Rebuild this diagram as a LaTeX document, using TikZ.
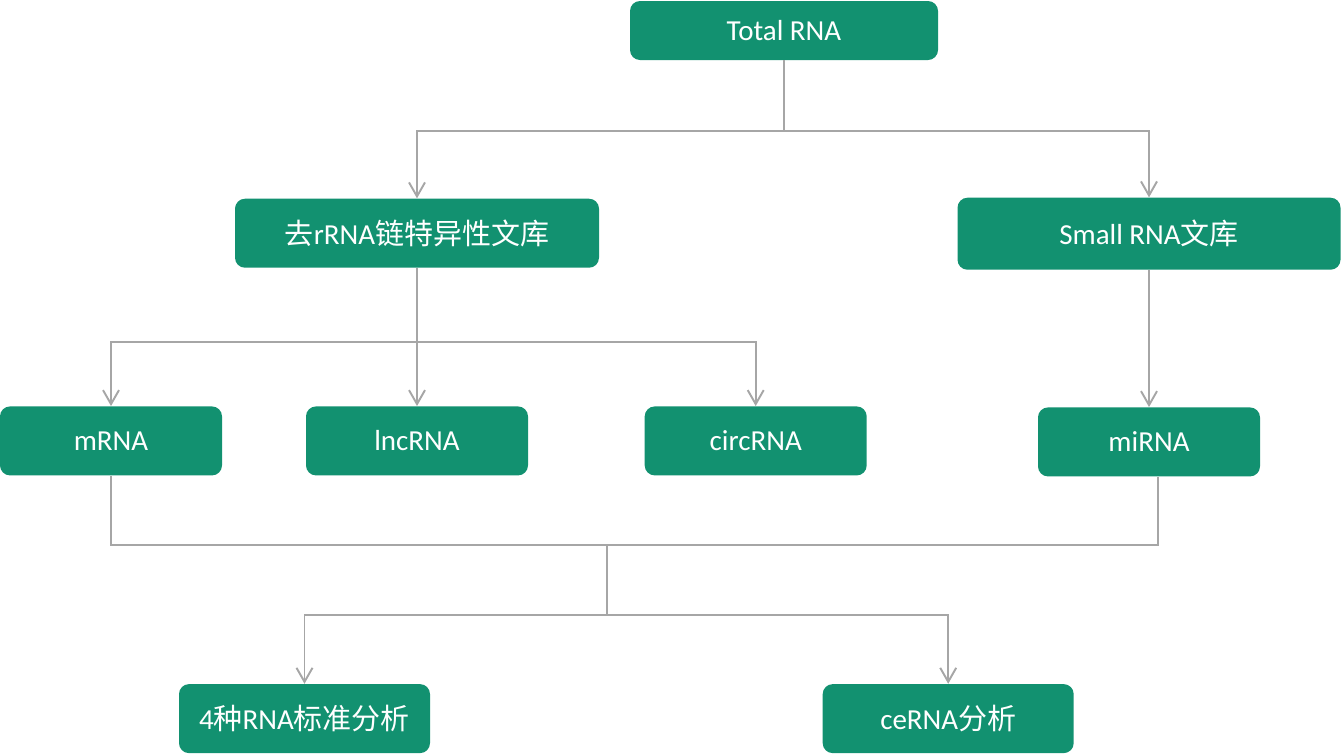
\documentclass[tikz,border=0pt]{standalone}
\usepackage{xcolor}
\usepackage{fontspec}
\setmainfont{Carlito}
\newfontfamily\cjk{Noto Sans CJK SC}
\usepackage{tikz}
\usetikzlibrary{arrows.meta, positioning, calc}

\definecolor{boxgreen}{RGB}{18,145,112}
\definecolor{linegray}{RGB}{166,166,166}

\begin{document}
\begin{tikzpicture}[
    block/.style={rectangle, fill=boxgreen, text=white, font=\fontsize{16.5}{19}\selectfont, minimum width=4.44cm, minimum height=1.38cm, rounded corners=2mm, inner sep=0pt},
    line/.style={draw=linegray, line width=1.1pt},
    arrow/.style={line, -{Straight Barb[length=2.8mm, width=3.2mm]}}
]
    \useasboundingbox (0,0) rectangle (26.84,-15.06);

    % 顶层
    \node[block, minimum width=6.16cm, minimum height=1.18cm] (total) at (15.68,-0.61) {Total RNA};

    % 两种文库
    \node[block, minimum width=7.28cm, below=2.76cm of total, xshift=-7.34cm] (rrna) {{\cjk 去}rRNA{\cjk 链特异性文库}};
    \node[block, minimum width=7.66cm, minimum height=1.44cm, below=2.74cm of total, xshift=7.30cm] (small) {Small RNA{\cjk 文库}};

    % 四类RNA
    \node[block, below=2.76cm of rrna, xshift=-6.12cm] (mrna) {mRNA};
    \node[block, below=2.76cm of rrna] (lnc) {lncRNA};
    \node[block, right=2.32cm of lnc] (circ) {circRNA};
    \node[block, below=2.74cm of small] (mirna) {miRNA};

    % 分析
    \node[block, minimum width=5.02cm, below=4.16cm of mrna, xshift=3.87cm] (std) {4{\cjk 种}RNA{\cjk 标准分析}};
    \node[block, minimum width=5.02cm, right=7.84cm of std] (cerna) {ceRNA{\cjk 分析}};

    % 连接线
    \draw[line] (total.south) -- ++(0,-1.42) coordinate (split1);
    \draw[arrow] (split1) -| (rrna.north);
    \draw[arrow] (split1) -| (small.north);

    \draw[line] (rrna.south) -- ++(0,-1.48) coordinate (split2);
    \draw[arrow] (split2) -| (mrna.north);
    \draw[arrow] (split2) -- (lnc.north);
    \draw[arrow] (split2) -| (circ.north);

    \draw[arrow] (small) -- (mirna);

    \coordinate (merge) at (12.14,-10.9);
    \draw[line] (mrna.south) |- (merge) -| ([xshift=0.18cm]mirna.south);
    \draw[line] (merge) -- ++(0,-1.4) coordinate (split3);
    \draw[arrow] (split3) -| (std.north);
    \draw[arrow] (split3) -| (cerna.north);
\end{tikzpicture}
\end{document}
